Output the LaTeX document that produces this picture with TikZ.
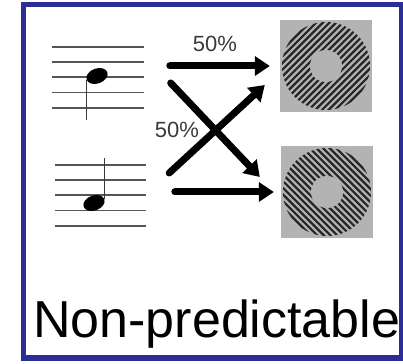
\documentclass[tikz,border=0pt]{standalone}
\usepackage{fontspec}
\setmainfont{Liberation Sans}
\usetikzlibrary{arrows.meta, calc, shapes.geometric}
\definecolor{frameblue}{HTML}{2D2D96}
\definecolor{gratgray}{HTML}{B3B3B3}
\definecolor{staffgray}{HTML}{555555}
\definecolor{stripeblack}{HTML}{262626}
\definecolor{lblgray}{HTML}{3A3A3A}

\begin{document}
\begin{tikzpicture}[
    x=1pt, y=1pt,
    bigarrow/.style={line width=7pt, line cap=round,
        -{Triangle[length=15pt, width=19pt]}},
    staff/.style={rectangle, inner sep=0pt,
        minimum width=91pt, minimum height=61pt},
    staffline/.style={draw=staffgray, line width=1.8pt},
    notehead/.style={ellipse, fill=black, inner sep=0pt,
        minimum width=22pt, minimum height=15pt, rotate=20},
    notestem/.style={draw=staffgray!70!black, line width=1.8pt},
    grating/.style={rectangle, fill=gratgray, inner sep=0pt,
        minimum size=92pt},
    stripe/.style={draw=stripeblack, line width=2.2pt},
    pctlbl/.style={font=\fontsize{22}{24}\selectfont, text=lblgray,
        inner sep=0pt}
]
\useasboundingbox (0,0) rectangle (403,363);

% Staves with one note each
\node[staff] (s1) at (98,285.5) {};
\node[staff] (s2) at (100.5,167.5) {};
\foreach \i in {0,...,4} {
    \draw[staffline] ([yshift=-\i*15.25pt]s1.north west)
        -- ([yshift=-\i*15.25pt]s1.north east);
    \draw[staffline] ([yshift=-\i*15.25pt]s2.north west)
        -- ([yshift=-\i*15.25pt]s2.north east);
}
\node[notehead] (nh1) at (97,287) {};
\draw[notestem] (nh1.west) -- ++(0,-40);
\node[notehead] (nh2) at (94,160) {};
\draw[notestem] (nh2.east) -- ++(0,41);

% Gratings
\node[grating] (g1) at (326,297) {};
\node[grating] (g2) at (327,171) {};
\begin{scope}
    \clip (g1.center) circle (44);
    \foreach \k in {-10,...,10}
        \draw[stripe] ($(g1.center)+(\k*3.32,-\k*3.32)$)
            ++(-50,-50) -- ++(100,100);
\end{scope}
\begin{scope}
    \clip (g2.center) circle (44);
    \foreach \k in {-10,...,10}
        \draw[stripe] ($(g2.center)+(\k*3.32,\k*3.32)$)
            ++(-50,50) -- ++(100,-100);
\end{scope}
\fill[gratgray] (g1.center) circle (16);
\fill[gratgray] (g2.center) circle (16);

% --- Arrows ---
\draw[bigarrow] ([xshift=-110pt]g1.west) -- ([xshift=-10pt]g1.west)
    node[pctlbl, midway, above=11pt, xshift=-5pt] (p1) {50\%};
\draw[bigarrow] ([xshift=-106pt]g2.west) -- ([xshift=-7pt]g2.west);
\draw[bigarrow] ($(s1.east)+(27,-5.5)$) -- ($(g2.west)+(-21,15)$);
\draw[bigarrow] ($(s2.east)+(23,22.5)$) -- ($(g1.west)+(-15,-19)$);
\node[pctlbl] (p2) at (177,233) {50\%};

% Caption
\node[anchor=base west, inner sep=0pt, font=\fontsize{52}{56}\selectfont]
    (cap) at (33,25) {Non-predictable};

% Frame
\draw[frameblue, line width=5pt] (23,5) rectangle (401,358);
\end{tikzpicture}
\end{document}
